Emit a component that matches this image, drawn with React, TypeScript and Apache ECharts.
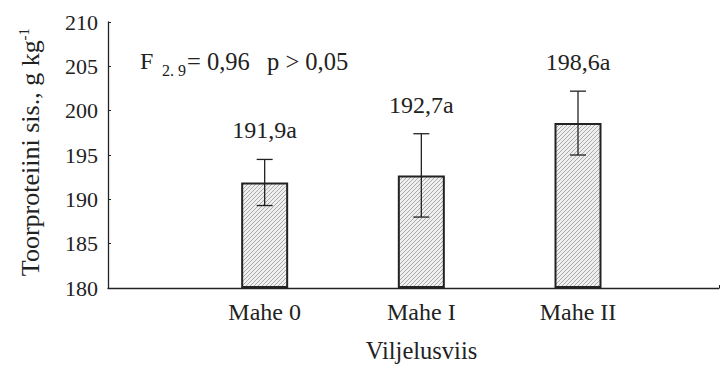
import React, { useEffect, useRef } from 'react';
import * as echarts from 'echarts';

const categories = ['Mahe 0', 'Mahe I', 'Mahe II'];
const means = [191.9, 192.7, 198.6];
const errors = [2.6, 4.7, 3.6];
const letters = ['a', 'a', 'a'];
const yMin = 180;
const yMax = 210;
const yStep = 5;

const FONT = 'Liberation Serif';
const INK = '#222';
const f = (size: number) => `${size}px ${FONT}`;

export default function App() {
  const ref = useRef<HTMLDivElement>(null);
  useEffect(() => {
    const chart = echarts.init(ref.current!, null, { renderer: 'svg' });
    const cv = document.createElement('canvas');
    cv.width = 4;
    cv.height = 4;
    const ctx = cv.getContext('2d')!;
    ctx.fillStyle = '#efefef';
    ctx.fillRect(0, 0, 4, 4);
    ctx.fillStyle = '#aaaaaa';
    for (let i = 0; i < 4; i++) ctx.fillRect(i, 3 - i, 1, 1);

    const option: any = {
      animation: false,
      textStyle: { fontFamily: FONT },
      grid: { left: 108, right: 0, top: 22, bottom: 76 },
      xAxis: {
        type: 'value',
        min: 0,
        max: 3.9,
        interval: 1,
        axisLine: { show: true, lineStyle: { color: INK, width: 1.3 } },
        axisTick: { show: true, inside: true, length: 3, lineStyle: { color: INK, width: 1 } },
        splitLine: { show: false },
        axisLabel: {
          formatter: (v: number) => categories[Math.round(v) - 1] ?? '',
          fontFamily: FONT,
          fontSize: 24,
          color: INK,
          margin: 12,
        },
        name: 'Viljelusviis',
        nameLocation: 'middle',
        nameGap: 50,
        nameTextStyle: { fontFamily: FONT, fontSize: 24.5, color: INK, padding: [0, 0, 0, 16] },
      },
      yAxis: {
        type: 'value',
        min: yMin,
        max: yMax,
        interval: yStep,
        startValue: yMin,
        axisLine: { show: true, lineStyle: { color: INK, width: 1.3 } },
        axisTick: { show: true, inside: true, length: 3, lineStyle: { color: INK, width: 1 } },
        splitLine: { show: false },
        axisLabel: { fontFamily: FONT, fontSize: 22, color: INK, margin: 10 },
        name: '{a|Toorproteiini sis., g kg}{s|-1}',
        nameLocation: 'middle',
        nameRotate: 90,
        nameGap: 63,
        nameTextStyle: {
          fontFamily: FONT,
          fontSize: 26,
          color: INK,
          padding: [0, 0, 0, 6],
          rich: {
            a: { fontFamily: FONT, fontSize: 26, color: INK, lineHeight: 29 },
            s: { fontFamily: FONT, fontSize: 15, color: INK, lineHeight: 29, verticalAlign: 'top' },
          },
        },
      },
      series: [
        {
          type: 'bar',
          data: means.map((m, i) => [i + 1, m]),
          barWidth: 47,
          silent: true,
          itemStyle: {
            color: { image: cv, repeat: 'repeat' },
            borderColor: INK,
            borderWidth: 2,
          },
        },
        {
          type: 'custom',
          silent: true,
          z: 5,
          data: means.map((m, i) => [i + 1, m, errors[i], i]),
          renderItem: (params: any, api: any) => {
            const x = api.value(0);
            const m = api.value(1);
            const e = api.value(2);
            const idx = api.value(3);
            const top = api.coord([x, m + e]);
            const bot = api.coord([x, m - e]);
            const cap = 8;
            const ls = { stroke: INK, lineWidth: 1.3 };
            return {
              type: 'group',
              children: [
                { type: 'line', shape: { x1: top[0], y1: top[1], x2: bot[0], y2: bot[1] }, style: ls },
                { type: 'line', shape: { x1: top[0] - cap, y1: top[1], x2: top[0] + cap, y2: top[1] }, style: ls },
                { type: 'line', shape: { x1: bot[0] - cap, y1: bot[1], x2: bot[0] + cap, y2: bot[1] }, style: ls },
                {
                  type: 'text',
                  x: top[0],
                  y: top[1] - 29,
                  style: {
                    text: m.toFixed(1).replace('.', ',') + letters[idx],
                    font: f(24),
                    fill: INK,
                    align: 'center',
                    verticalAlign: 'middle',
                  },
                },
              ],
            };
          },
        },
      ],
      graphic: [
        { type: 'text', x: 140, y: 61, style: { text: 'F', font: f(24), fill: INK, verticalAlign: 'middle' } },
        { type: 'text', x: 162, y: 70, style: { text: '2. 9', font: f(16), fill: INK, verticalAlign: 'middle' } },
        { type: 'text', x: 187, y: 61, style: { text: '= 0,96', font: f(24.5), fill: INK, verticalAlign: 'middle' } },
        { type: 'text', x: 267, y: 61, style: { text: 'p > 0,05', font: f(24.5), fill: INK, verticalAlign: 'middle' } },
      ],
    };
    chart.setOption(option);
    return () => chart.dispose();
  }, []);
  return (
    <div
      ref={ref}
      style={{ position: 'fixed', left: 0, top: 0, width: 722, height: 368, background: '#fff' }}
    />
  );
}
